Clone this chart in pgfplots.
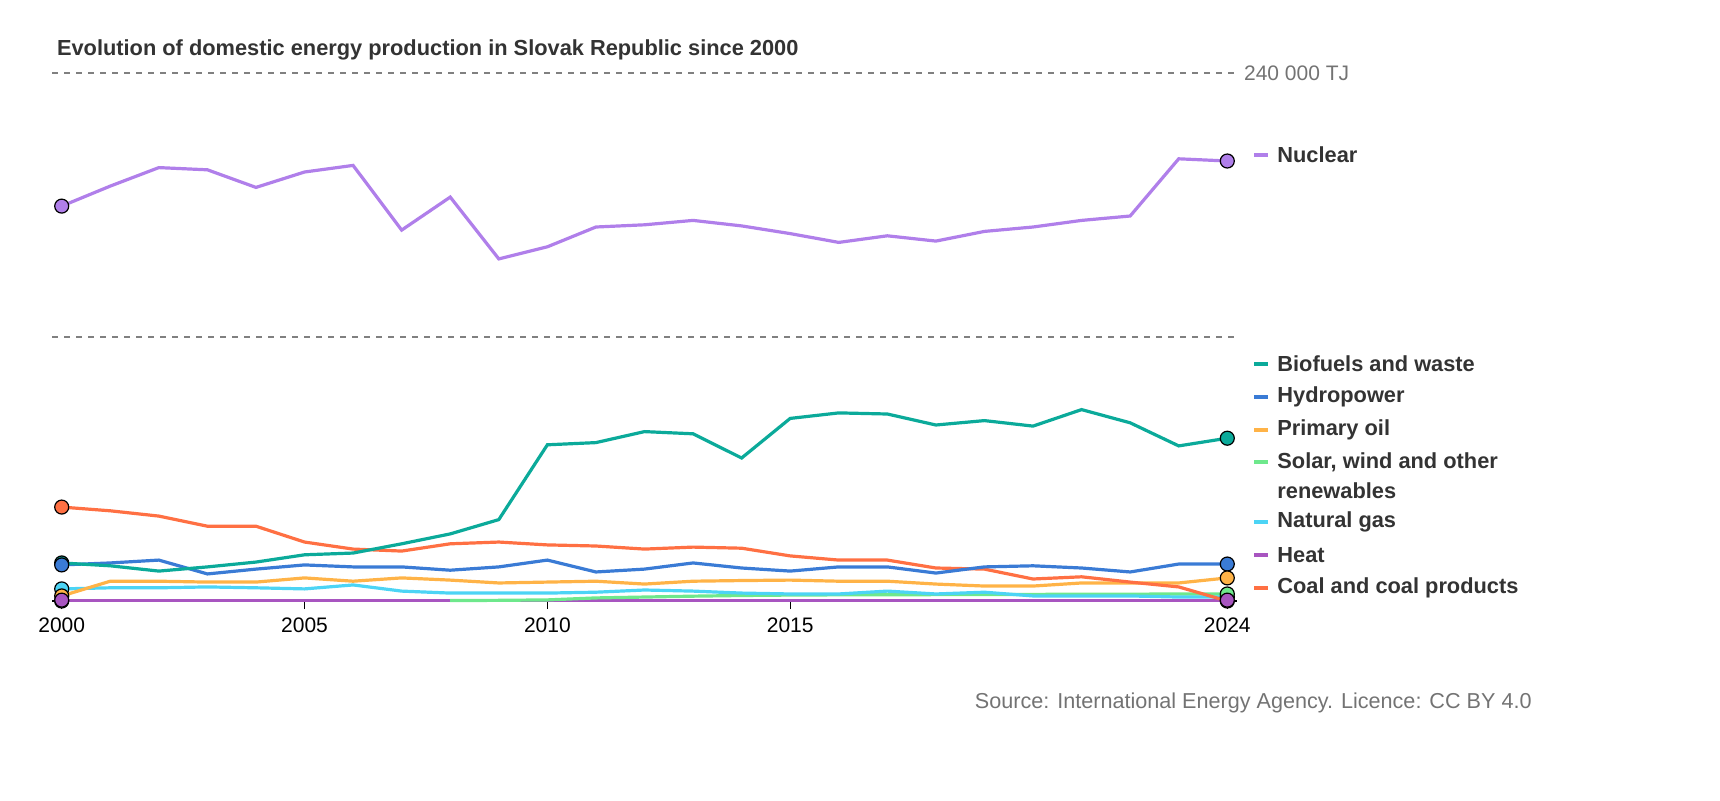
\documentclass[border=0pt]{standalone}
\usepackage{pgfplots}
\pgfplotsset{compat=1.18}
\usepackage{fontspec}
\setmainfont{Liberation Sans}
\definecolor{cNuc}{HTML}{B07FEA}
\definecolor{cBio}{HTML}{0BAA9A}
\definecolor{cHyd}{HTML}{3A7BD5}
\definecolor{cOil}{HTML}{FFB347}
\definecolor{cSol}{HTML}{6EE88C}
\definecolor{cGas}{HTML}{4CD4F5}
\definecolor{cHeat}{HTML}{A855C0}
\definecolor{cCoal}{HTML}{FF7043}
\definecolor{txt}{HTML}{333333}
\begin{document}
\begin{tikzpicture}[x=1pt,y=1pt]
\path (-26,-99.5) rectangle (834,300.5);
\begin{axis}[at={(0,0)},anchor=origin,scale only axis,width=592.5pt,height=264pt,
 xmin=1999.8,xmax=2024.2,ymin=0,ymax=240000,
 axis x line=bottom, hide y axis, x axis line style={-,black,line width=0.8pt},
 xtick={2000,2005,2010,2015,2024}, xticklabel style={font=\fontsize{10.5}{12}\selectfont,yshift=-1pt},
 /pgf/number format/assume math mode=true, xticklabel={\pgfmathprintnumber[1000 sep={}]{\tick}},
 tick style={black,line width=0.6pt}, major tick length=4pt, tick align=outside, xtick pos=bottom,
 clip=false, every axis plot/.append style={line width=1.6pt}]
\draw[dashed,gray,line width=0.6pt] (axis cs:1999.8,120000) -- (axis cs:2024.2,120000);
\draw[dashed,gray,line width=0.6pt] (axis cs:1999.8,240000) -- (axis cs:2024.2,240000);
\node[anchor=west,font=\fontsize{10.5}{12}\selectfont,text=gray!90!black] at (axis cs:2024.2,240000) {240 000 TJ};
\addplot[cHeat] coordinates {(2000,400)(2024,400)};
\addplot[cSol] coordinates {(2008,200)(2009,300)(2010,500)(2011,1400)(2012,1800)(2013,2200)(2014,2500)(2015,2700)(2016,2800)(2017,2800)(2018,2900)(2019,3000)(2020,3000)(2021,3100)(2022,3100)(2023,3200)(2024,3200)};
\addplot[cGas] coordinates {(2000,5500)(2001,6000)(2002,6000)(2003,6400)(2004,6000)(2005,5500)(2006,7300)(2007,4500)(2008,3600)(2009,3600)(2010,3600)(2011,4000)(2012,5000)(2013,4500)(2014,3600)(2015,3200)(2016,3200)(2017,4500)(2018,3200)(2019,4000)(2020,2300)(2021,2300)(2022,2300)(2023,1800)(2024,1800)};
\addplot[cOil] coordinates {(2000,2300)(2001,9000)(2002,9000)(2003,8600)(2004,8600)(2005,10500)(2006,9000)(2007,10500)(2008,9500)(2009,8200)(2010,8600)(2011,9000)(2012,7700)(2013,9000)(2014,9300)(2015,9500)(2016,9000)(2017,9000)(2018,7700)(2019,6800)(2020,6800)(2021,8200)(2022,8200)(2023,8200)(2024,10500)};
\addplot[cCoal] coordinates {(2000,42700)(2001,41000)(2002,38600)(2003,34000)(2004,34000)(2005,26800)(2006,23600)(2007,22700)(2008,26000)(2009,26800)(2010,25500)(2011,25000)(2012,23600)(2013,24500)(2014,24000)(2015,20500)(2016,18600)(2017,18600)(2018,15000)(2019,14500)(2020,10000)(2021,11000)(2022,8600)(2023,6400)(2024,0)};
\addplot[cHyd] coordinates {(2000,16400)(2001,17300)(2002,18600)(2003,12300)(2004,14500)(2005,16400)(2006,15500)(2007,15500)(2008,14000)(2009,15500)(2010,18600)(2011,13200)(2012,14500)(2013,17300)(2014,15000)(2015,13600)(2016,15500)(2017,15500)(2018,12700)(2019,15500)(2020,16000)(2021,15000)(2022,13200)(2023,16800)(2024,16800)};
\addplot[cBio] coordinates {(2000,17300)(2001,16000)(2002,13600)(2003,15500)(2004,17700)(2005,21000)(2006,21800)(2007,26000)(2008,30500)(2009,37000)(2010,71000)(2011,72000)(2012,77000)(2013,76000)(2014,65000)(2015,83000)(2016,85500)(2017,85000)(2018,80000)(2019,82000)(2020,79500)(2021,87000)(2022,81000)(2023,70500)(2024,74000)};
\addplot[cNuc] coordinates {(2000,179500)(2001,188600)(2002,197000)(2003,196000)(2004,188000)(2005,195000)(2006,198000)(2007,168600)(2008,183600)(2009,155500)(2010,161000)(2011,170000)(2012,171000)(2013,173000)(2014,170500)(2015,167000)(2016,163000)(2017,166000)(2018,163600)(2019,168000)(2020,170000)(2021,173000)(2022,175000)(2023,201000)(2024,200000)};
\foreach \c/\a/\b in {cBio/17300/74000,cHyd/16400/16800,cGas/5500/1800,cOil/2300/10500,cSol/0/3200,cCoal/42700/0,cHeat/400/400,cNuc/179500/200000}{
 \edef\tmp{\noexpand\addplot[only marks,mark=*,mark size=3.5pt,mark options={fill=\c,draw=black,line width=0.6pt}] coordinates {(2000,\a)(2024,\b)};}\tmp
}
\end{axis}
\node[anchor=west,font=\bfseries\fontsize{10.9}{13}\selectfont,text=txt] at (-1,275.5) {Evolution of domestic energy production in Slovak Republic since 2000};
\foreach \c/\py/\t in {cNuc/155/Nuclear,cBio/364/Biofuels and waste,cHyd/397/Hydropower,cOil/430/Primary oil,cSol/462/{Solar, wind and other},cGas/522/Natural gas,cHeat/555/Heat,cCoal/588/Coal and coal products}{
 \draw[\c,line width=1.6pt] (601,{(601-\py)*0.5}) -- (608,{(601-\py)*0.5});
 \node[anchor=west,inner sep=0,font=\bfseries\fontsize{10.9}{13}\selectfont,text=txt] at (612.5,{(601-\py)*0.5}) {\t};
}
\node[anchor=west,inner sep=0,font=\bfseries\fontsize{10.9}{13}\selectfont,text=txt] at (612.5,{(601-491)*0.5}) {renewables};
\node[anchor=east,inner sep=0,font=\fontsize{10.8}{12}\selectfont,text=gray!90!black] at (740,-51) {Source: International Energy Agency. Licence: CC BY 4.0};
\end{tikzpicture}
\end{document}
